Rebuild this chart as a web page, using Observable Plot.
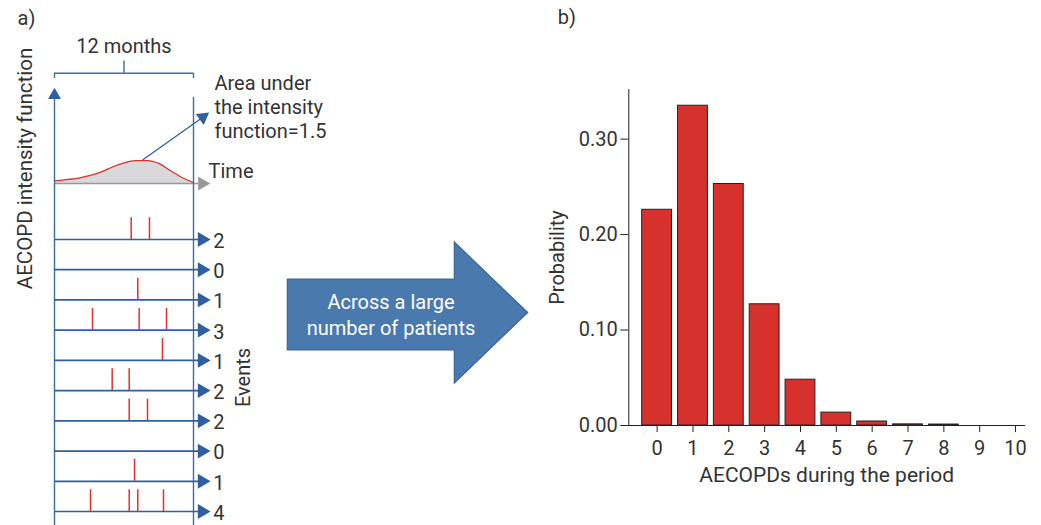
<!DOCTYPE html>
<html><head><meta charset="utf-8">
<script src="https://cdn.jsdelivr.net/npm/d3@7"></script>
<script src="https://cdn.jsdelivr.net/npm/@observablehq/plot@0.6"></script>
<style>
body{margin:0;background:#fff;}
#wrap{position:relative;width:1041px;height:525px;overflow:hidden;font-family:Roboto,sans-serif;}
#wrap > svg{position:absolute;top:0;left:0;max-width:none;}
</style></head><body><div id="wrap"></div>
<script>
// ---- panel a) data ----
const months = [0,1,2,3,4,5,6,7,8,9,10,11,12];
const intensity = [0.025,0.038,0.051,0.077,0.112,0.163,0.203,0.227,0.227,0.198,0.128,0.059,0.010]; // events / month, area = 1.5
const patientRows = [1,2,3,4,5,6,7,8,9,10];
const patientCounts = [2,0,1,3,1,2,2,0,1,4];
const eventRow   = [1,1,3,4,4,4,5,6,6,7,7,9,10,10,10,10];
const eventMonth = [6.62,8.20,7.19,3.28,7.31,9.67,9.32,4.98,6.45,6.45,8.03,6.91,3.11,6.45,7.19,9.41];
// ---- panel b) data ----
const aecopds = [0,1,2,3,4,5,6,7,8,9,10];
const probability = [0.226,0.335,0.253,0.127,0.048,0.0135,0.0042,0.0012,0.0010,0,0];

const BLUE = "#2f5f9f", BLUE2 = "#3d6cab", RED = "#e0312e", TXT = "#333";
const wrap = document.getElementById("wrap");
const baseStyle = {fontFamily:"Roboto, sans-serif", fontSize:"20px", color:TXT, background:"none", overflow:"visible"};

const curve = months.map((t,i)=>({t, v:intensity[i]}));
const peak = curve.reduce((a,b)=> b.v > a.v ? b : a);

// intensity function plot
const plotI = Plot.plot({
  width:540, height:525, marginLeft:54, marginRight:347, marginTop:0, marginBottom:0,
  style: baseStyle,
  x:{domain:[0,12], axis:null},
  y:{domain:[0,0.25], range:[183,157.7], axis:null},
  marks:[
    Plot.areaY(curve,{x:"t", y:"v", fill:"#d9d9db", curve:"monotone-x"}),
    Plot.ruleY([0],{x1:0, x2:12.5, stroke:"#999", strokeWidth:1.6}),
    Plot.dot([{t:12.75, v:0}],{x:"t", y:"v", symbol:"triangle", rotate:90, r:5.2, fill:"#999", stroke:"none"}),
    Plot.lineY(curve,{x:"t", y:"v", stroke:RED, strokeWidth:1.3, curve:"monotone-x"}),
    Plot.link([{t1:peak.t+0.6, v1:peak.v+0.005, t2:12.81, v2:0.655}],{x1:"t1", y1:"v1", x2:"t2", y2:"v2", stroke:BLUE, strokeWidth:1.3}),
    Plot.dot([{t:12.81, v:0.655}],{x:"t", y:"v", symbol:"triangle", rotate:53.8, r:5, fill:BLUE, stroke:"none"}),
    Plot.text(["Area under\nthe intensity\nfunction=1.5"],{x:()=>13.81, y:()=>0.761, textAnchor:"start", lineAnchor:"middle", lineHeight:1.2, fill:TXT, fontSize:20}),
    Plot.text(["Time"],{x:()=>13.3, y:()=>0.1185, textAnchor:"start", fill:TXT, fontSize:20})
  ]
});
wrap.appendChild(plotI);

// patients plot
const patients = patientRows.map((r,i)=>({row:r, n:patientCounts[i]}));
const events = eventRow.map((r,i)=>({row:r, t:eventMonth[i]}));
const bracketRow = -4.503;
const plotP = Plot.plot({
  width:540, height:525, marginLeft:54, marginRight:347, marginTop:0, marginBottom:0,
  style: baseStyle,
  x:{domain:[0,12], axis:null},
  y:{domain:[1,10], range:[239,511], axis:null},
  marks:[
    // time axes of the window
    Plot.ruleX([{t:0, top:-3.765},{t:12, top:-3.708}],{x:"t", y1:"top", y2:()=>10.6, stroke:BLUE2, strokeWidth:1.4}),
    Plot.dot([{t:0, r:-3.773}],{x:"t", y:"r", symbol:"triangle", r:4.8, fill:BLUE, stroke:"none"}),
    // 12 months bracket
    Plot.ruleY([bracketRow],{x1:0, x2:12, stroke:BLUE2, strokeWidth:1.4}),
    Plot.ruleX([0,12],{y1:bracketRow, y2:bracketRow+0.176, stroke:BLUE2, strokeWidth:1.4}),
    Plot.ruleX([6],{y1:bracketRow-0.403, y2:bracketRow, stroke:BLUE2, strokeWidth:1.4}),
    Plot.text(["12 months"],{x:()=>6, frameAnchor:"top", dy:46, lineAnchor:"middle", textAnchor:"middle", fill:TXT, fontSize:20}),
    // patient time lines
    Plot.ruleY(patients,{y:"row", x1:0, x2:12.6, stroke:BLUE, strokeWidth:1.7}),
    Plot.dot(patients,{x:()=>12.74, y:"row", symbol:"triangle", rotate:90, r:5.5, fill:BLUE, stroke:"none"}),
    Plot.text(patients,{x:()=>13.7, y:"row", text:d=>String(d.n), textAnchor:"start", dy:2, fill:TXT, fontSize:20}),
    // events
    Plot.ruleX(events,{x:"t", y1:d=>d.row-0.72, y2:"row", stroke:RED, strokeWidth:1.5}),
    // labels
    Plot.text(["a)"],{frameAnchor:"top-left", dx:-37, dy:18, textAnchor:"start", lineAnchor:"middle", fill:TXT, fontSize:20}),
    Plot.text(["AECOPD intensity function"],{frameAnchor:"top-left", dx:-29, dy:168, rotate:-90, textAnchor:"middle", lineAnchor:"middle", fill:TXT, fontSize:20.5}),
    Plot.text(["Events"],{frameAnchor:"top-left", dx:189, dy:377, rotate:-90, textAnchor:"middle", lineAnchor:"middle", fill:TXT, fontSize:20})
  ]
});
wrap.appendChild(plotP);

// big arrow
const arr = d3.create("svg").attr("width",255).attr("height",155)
  .style("left","280px").style("top","235px");
arr.append("polygon")
  .attr("points","7.3,44 174.3,44 174.3,7 247.7,77.5 174.3,148 174.3,115 7.3,115")
  .attr("fill","#4a79ad").attr("stroke","#3b679a").attr("stroke-width",1.2);
arr.append("text").attr("x",111).attr("y",66.7).attr("text-anchor","middle").attr("dominant-baseline","central")
  .attr("fill","#fff").attr("font-family","Roboto, sans-serif").attr("font-size",20).text("Across a large");
arr.append("text").attr("x",111).attr("y",92.7).attr("text-anchor","middle").attr("dominant-baseline","central")
  .attr("fill","#fff").attr("font-family","Roboto, sans-serif").attr("font-size",20).text("number of patients");
wrap.appendChild(arr.node());

// bar chart
const bars = aecopds.map((k,i)=>({k, p:probability[i]})).filter(d=>d.p>0);
const plotB = Plot.plot({
  width:511, height:525, marginLeft:98.3, marginRight:17, marginTop:89, marginBottom:100,
  style: {...baseStyle, color:"#222"},
  x:{domain:[-0.79,10.25], label:null},
  y:{domain:[0,0.352], label:null},
  marks:[
    Plot.rectY(bars,{x1:d=>d.k-0.5, x2:d=>d.k+0.5, y:"p", insetLeft:3, insetRight:3, fill:"#d7312e", stroke:"#222", strokeWidth:1}),
    Plot.frame({anchor:"left", stroke:"#222"}),
    Plot.frame({anchor:"bottom", stroke:"#222"}),
    Plot.axisX({ticks:aecopds, tickSize:7, tickPadding:8, tickFormat:d=>String(d), fontSize:20, fill:TXT, label:null}),
    Plot.axisY({ticks:[0,0.1,0.2,0.3], tickSize:8, tickPadding:3, tickFormat:".2f", fontSize:20, fill:TXT, label:null}),
    Plot.text(["Probability"],{frameAnchor:"left", dx:-71, rotate:-90, textAnchor:"middle", lineAnchor:"middle", fill:TXT, fontSize:20}),
    Plot.text(["AECOPDs during the period"],{frameAnchor:"bottom", dy:50, textAnchor:"middle", lineAnchor:"middle", fill:TXT, fontSize:21}),
    Plot.text(["b)"],{frameAnchor:"top-left", dx:-71, dy:-72, textAnchor:"start", lineAnchor:"middle", fill:TXT, fontSize:20})
  ]
});
plotB.style.left = "530px";
wrap.appendChild(plotB);
</script></body></html>
